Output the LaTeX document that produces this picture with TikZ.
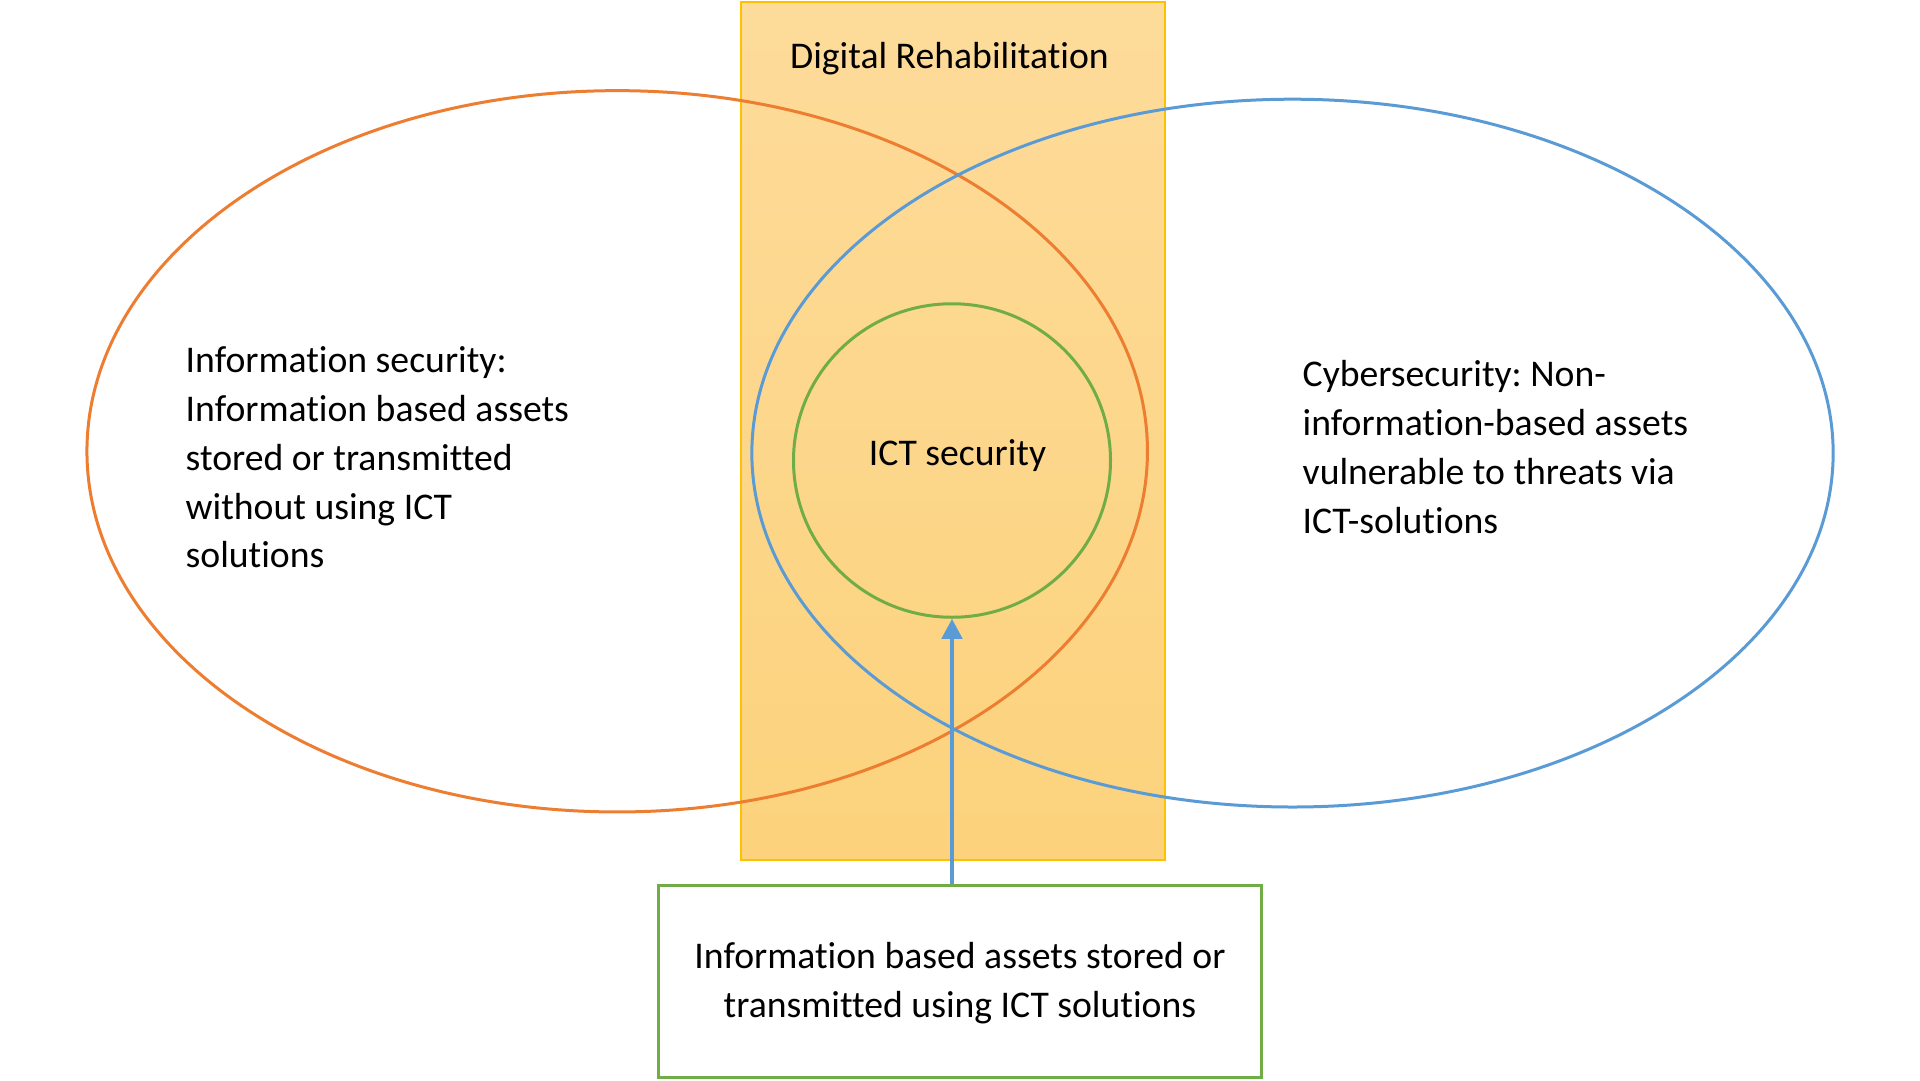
\documentclass[tikz,border=0pt]{standalone}
\usepackage{fontspec}
\setmainfont{Carlito}[Ligatures=NoCommon]
\usetikzlibrary{shapes.geometric,arrows.meta}
\definecolor{orangeC}{HTML}{ED7D31}
\definecolor{blueC}{HTML}{5B9BD5}
\definecolor{greenC}{HTML}{70AD47}
\definecolor{goldC}{HTML}{FFC000}
\definecolor{fillTop}{RGB}{253,219,154}
\definecolor{fillBot}{RGB}{252,210,124}
\tikzset{
  txt/.style={font=\fontsize{37.7}{48.7}\selectfont\frenchspacing, text=black, inner sep=0pt},
  ring/.style={ellipse, draw, line width=3pt, inner sep=0pt},
  band/.style={draw=goldC, line width=2pt, top color=fillTop, bottom color=fillBot, inner sep=0pt},
  conn/.style={draw=blueC, line width=4.5pt, -{Triangle[length=20pt,width=20pt]}},
}
\begin{document}
\begin{tikzpicture}[x=1pt,y=-1pt]
\useasboundingbox (0,0) rectangle (1920,1080);
% Digital Rehabilitation band
\node (band) [band, minimum width=424pt, minimum height=858pt, anchor=north west] at (739.5,0.5) {};
\node (title) [txt, anchor=base] at (949.5,68.3) {Digital Rehabilitation};
% ellipses
\node (info) [ring, draw=orangeC, minimum width=1060.5pt, minimum height=721.3pt] at (617.2,451.3) {};
\node (cyber) [ring, draw=blueC, minimum width=1081.3pt, minimum height=707.8pt] at (1292.5,453.1) {};
\node (ict) [ring, draw=greenC, minimum width=317pt, minimum height=313.5pt] at (952,460.5) {};
\node (ictlabel) [txt, anchor=base] at (957.5,465) {ICT security};
% texts
\node (infotext) [txt, align=left, anchor=north west] at (185.5,338.6)
  {\strut Information security:\\Information based assets\\stored or transmitted\\without using ICT\\solutions};
\node (cybertext) [txt, align=left, anchor=north west] at (1302.5,352.6)
  {\strut Cybersecurity: Non-\\information-based assets\\vulnerable to threats via\\ICT-solutions};
% bottom box
\node (box) [txt, draw=greenC, line width=3pt, align=center, minimum width=602.4pt, minimum height=192.3pt] at (960,981.5)
  {\strut Information based assets stored or\\transmitted using ICT solutions\rule[-11pt]{0pt}{11pt}};
% arrow
\draw[conn] (ict.south |- box.north) -- (ict.south);
\end{tikzpicture}
\end{document}
